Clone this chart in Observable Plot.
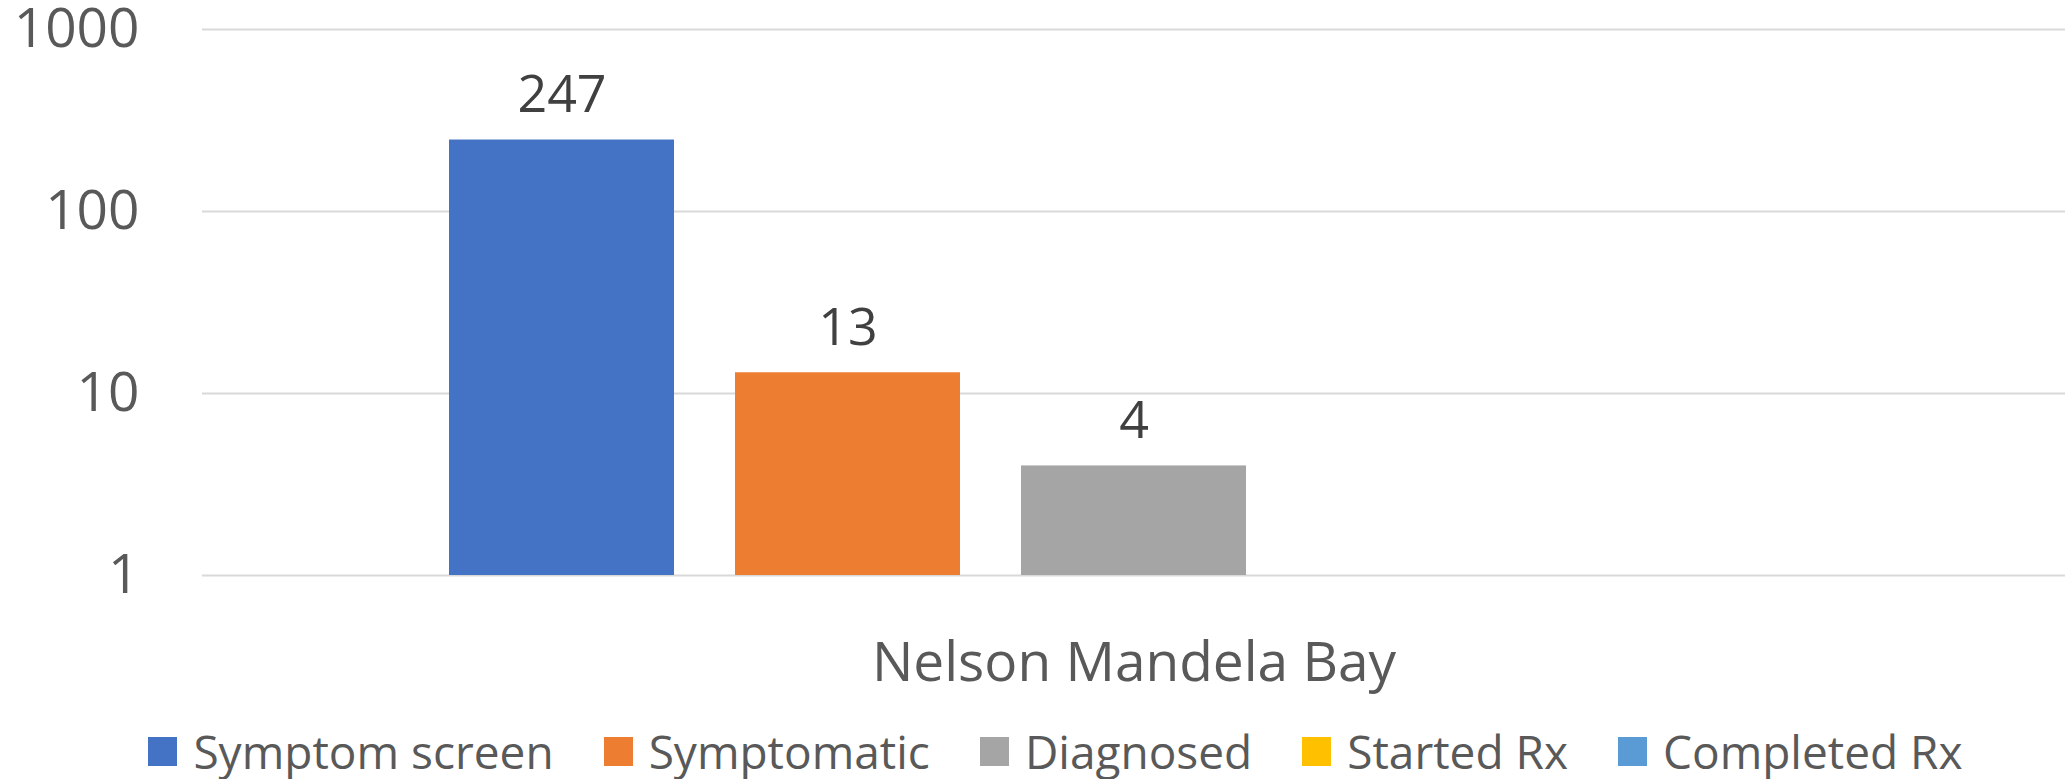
<!DOCTYPE html>
<html>
<head>
<meta charset="utf-8">
<script src="https://cdn.jsdelivr.net/npm/d3@7"></script>
<script src="https://cdn.jsdelivr.net/npm/@observablehq/plot@0.6"></script>
<style>
  html, body { margin: 0; padding: 0; background: #fff; }
  #chart { width: 2069px; }
  #chart svg { overflow: visible; }
  .lg-swatches { justify-content: center; font-family: "Open Sans", sans-serif; font-size: 46px; color: #595959; margin: 20px 0 0 0 !important; padding-left: 92px; min-height: 60px; }
  .lg-swatches .lg-swatch { margin-right: 50px !important; }
  .lg-swatches .lg-swatch > svg { margin-right: 16px !important; }
</style>
</head>
<body>
<div id="chart"></div>
<script>
const groups = ["Nelson Mandela Bay"];
const series = ["Symptom screen", "Symptomatic", "Diagnosed", "Started Rx", "Completed Rx"];
const values = [247, 13, 4, 0, 0];
const colors = ["#4472C4", "#ED7D31", "#A5A5A5", "#FFC000", "#5B9BD5"];
const yTicks = [1, 10, 100, 1000];

const data = series.map((s, i) => ({group: groups[0], series: s, value: values[i]}));
const shown = data.filter(d => d.value > 0);

const plot = Plot.plot({
  width: 2069,
  height: 700,
  marginLeft: 202,
  marginRight: 4,
  marginTop: 29,
  marginBottom: 125,
  style: {fontFamily: "'Open Sans', sans-serif", background: "#fff", overflow: "visible"},
  x: {type: "band", domain: series, paddingInner: 0.2125, paddingOuter: 0.852, axis: null},
  y: {type: "log", domain: [1, 1000], ticks: yTicks, tickFormat: d => String(d), tickSize: 0, tickPadding: 63, label: null},
  color: {domain: series, range: colors},
  marks: [
    Plot.ruleY(yTicks, {y: d => d, stroke: "#d9d9d9", strokeWidth: 2}),
    Plot.axisY({ticks: yTicks, tickFormat: d => String(d), tickSize: 0, tickPadding: 63, fontSize: 55, fill: "#595959", label: null}),
    Plot.barY(shown, {x: "series", y1: 1, y2: "value", fill: "series"}),
    Plot.text(shown, {x: "series", y: "value", text: d => String(d.value), dy: -28, lineAnchor: "bottom", fontSize: 52, fill: "#404040"}),
    Plot.text(groups, {frameAnchor: "bottom", text: d => d, dy: 105, lineAnchor: "bottom", fontSize: 55, fill: "#595959"})
  ]
});

document.getElementById("chart").appendChild(plot);
const legend = plot.legend("color", {legend: "swatches", swatchSize: 29, className: "lg"});
document.getElementById("chart").appendChild(legend);
</script>
</body>
</html>
